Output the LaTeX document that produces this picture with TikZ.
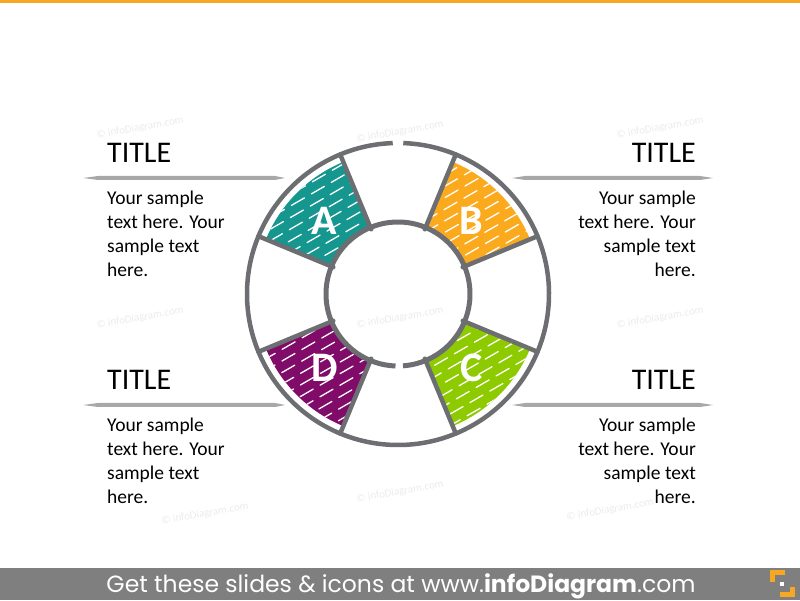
\documentclass[tikz,border=0pt]{standalone}
\usepackage{fontspec}
\setmainfont{Carlito}
\newfontfamily\footfont{Poppins}
\usetikzlibrary{positioning}

\definecolor{segA}{HTML}{15968F}
\definecolor{segB}{HTML}{FBAA1E}
\definecolor{segC}{HTML}{8DCA00}
\definecolor{segD}{HTML}{800B69}
\definecolor{ringgray}{HTML}{6D6E71}
\definecolor{rulegray}{HTML}{A8A8A8}
\definecolor{footgray}{HTML}{7F7F7F}
\definecolor{orangeline}{HTML}{F7A823}

\begin{document}
\begin{tikzpicture}[x=1pt, y=1pt,
  ringline/.style={line width=4.5pt, ringgray},
  spoke/.style={line width=4.5pt, ringgray, line cap=round},
  streak/.style={white, line width=1.3pt, line cap=round, dash pattern=on 15pt off 8pt},
  segletter/.style={white, font=\fontsize{42}{42}\selectfont\bfseries},
  ttl/.style={inner sep=0pt, font=\fontsize{30}{30}\selectfont},
  bodytxt/.style={inner sep=0pt, font=\fontsize{19.5}{24}\selectfont},
  wmark/.style={black!8, rotate=10, font=\fontsize{11}{11}\selectfont}]

\useasboundingbox (0,0) rectangle (800,600);

% top line and footer bar
\fill[orangeline] (0,597) rectangle (800,600);
\fill[footgray] (0,0) rectangle (800,32);
\node[white, anchor=base, inner sep=0pt, font=\footfont\fontsize{23.5}{23.5}\selectfont] (foot) at (401,8)
  {Get these slides \& icons at www.\textbf{infoDiagram}.com};
\fill[orangeline] (770,30) rectangle (785,25);
\fill[orangeline] (770,30) rectangle (775,18);
\fill[orangeline] (790,13) rectangle (795,3);
\fill[orangeline] (780,8) rectangle (795,3);
\fill[white] (780,18) rectangle (784,14);

% watermarks
\node[wmark] (wm1) at (140,472) {\textcopyright\ infoDiagram.com};
\node[wmark] (wm2) at (400,468) {\textcopyright\ infoDiagram.com};
\node[wmark] (wm3) at (660,472) {\textcopyright\ infoDiagram.com};
\node[wmark] (wm4) at (140,282) {\textcopyright\ infoDiagram.com};
\node[wmark] (wm5) at (400,282) {\textcopyright\ infoDiagram.com};
\node[wmark] (wm6) at (660,282) {\textcopyright\ infoDiagram.com};
\node[wmark] (wm7) at (205,86) {\textcopyright\ infoDiagram.com};
\node[wmark] (wm8) at (400,108) {\textcopyright\ infoDiagram.com};
\node[wmark] (wm9) at (610,90) {\textcopyright\ infoDiagram.com};

% the ring
\begin{scope}[shift={(398,306)}]
 % A
 \begin{scope}
  \clip (112.5:72) arc[start angle=112.5, end angle=157.5, radius=72] -- (157.5:143) arc[start angle=157.5, end angle=112.5, radius=143] -- cycle;
  \fill[segA] (-160,-160) rectangle (160,160);
  \begin{scope}[rotate=30]
   \foreach \k in {-16,...,16} \draw[streak] ({-190+mod(7*\k+120,23)},\k*10) -- (190,\k*10);
  \end{scope}
 \end{scope}
 % B
 \begin{scope}
  \clip (22.5:72) arc[start angle=22.5, end angle=67.5, radius=72] -- (67.5:143) arc[start angle=67.5, end angle=22.5, radius=143] -- cycle;
  \fill[segB] (-160,-160) rectangle (160,160);
  \begin{scope}[rotate=30]
   \foreach \k in {-16,...,16} \draw[streak] ({-190+mod(5*\k+120,21)},\k*10) -- (190,\k*10);
  \end{scope}
 \end{scope}
 % C
 \begin{scope}
  \clip (-67.5:72) arc[start angle=-67.5, end angle=-22.5, radius=72] -- (-22.5:143) arc[start angle=-22.5, end angle=-67.5, radius=143] -- cycle;
  \fill[segC] (-160,-160) rectangle (160,160);
  \begin{scope}[rotate=30]
   \foreach \k in {-16,...,16} \draw[streak] ({-190+mod(9*\k+150,19)},\k*10) -- (190,\k*10);
  \end{scope}
 \end{scope}
 % D
 \begin{scope}
  \clip (202.5:72) arc[start angle=202.5, end angle=247.5, radius=72] -- (247.5:143) arc[start angle=247.5, end angle=202.5, radius=143] -- cycle;
  \fill[segD] (-160,-160) rectangle (160,160);
  \begin{scope}[rotate=30]
   \foreach \k in {-16,...,16} \draw[streak] ({-190+mod(6*\k+120,22)},\k*10) -- (190,\k*10);
  \end{scope}
 \end{scope}

 \foreach \a in {22.5,67.5,...,337.5} \draw[spoke] (\a:70) -- (\a:151);
 \draw[ringline] (92:151) arc[start angle=92, end angle=448, radius=151];
 \draw[ringline, line width=5pt] (274:72) arc[start angle=274, end angle=628, radius=72];

 \node[segletter] (labA) at (135:104) {A};
 \node[segletter] (labB) at (45:104) {B};
 \node[segletter] (labC) at (-45:104) {C};
 \node[segletter] (labD) at (225:104) {D};
\end{scope}

% side texts
\node[ttl, anchor=base west] (ttlA) at (107,437) {TITLE};
\fill[rulegray] (83,422) -- (98,424) -- (275,424) -- (285,422) -- (275,420) -- (98,420) -- cycle;
\node[bodytxt, align=left, below right=28pt and 0pt of ttlA.south west] (txtA)
  {Your sample\\text here. Your\\sample text\\here.};

\node[ttl, anchor=base east] (ttlB) at (696,437) {TITLE};
\fill[rulegray] (512,422) -- (525,424) -- (700,424) -- (713,422) -- (700,420) -- (525,420) -- cycle;
\node[bodytxt, align=right, below left=28pt and 0pt of ttlB.south east] (txtB)
  {Your sample\\text here. Your\\sample text\\here.};

\node[ttl, anchor=base west] (ttlD) at (107,210) {TITLE};
\fill[rulegray] (83,195) -- (98,197) -- (275,197) -- (285,195) -- (275,193) -- (98,193) -- cycle;
\node[bodytxt, align=left, below right=28pt and 0pt of ttlD.south west] (txtD)
  {Your sample\\text here. Your\\sample text\\here.};

\node[ttl, anchor=base east] (ttlC) at (696,210) {TITLE};
\fill[rulegray] (512,195) -- (525,197) -- (700,197) -- (713,195) -- (700,193) -- (525,193) -- cycle;
\node[bodytxt, align=right, below left=28pt and 0pt of ttlC.south east] (txtC)
  {Your sample\\text here. Your\\sample text\\here.};

\end{tikzpicture}
\end{document}
